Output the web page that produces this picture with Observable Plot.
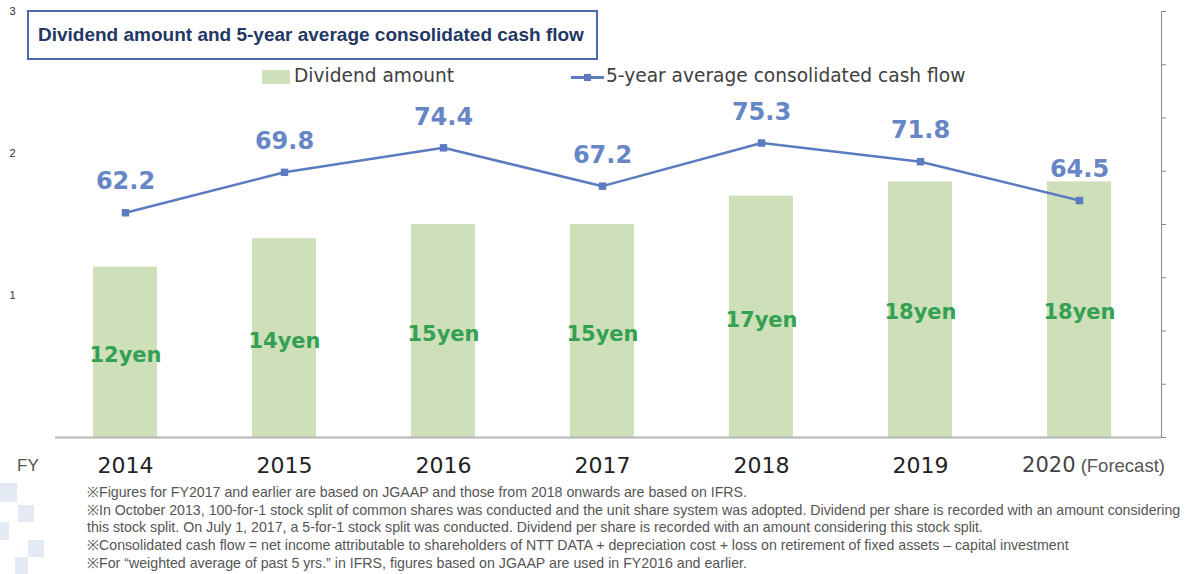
<!DOCTYPE html>
<html>
<head>
<meta charset="utf-8">
<script src="https://cdn.jsdelivr.net/npm/d3@7"></script>
<script src="https://cdn.jsdelivr.net/npm/@observablehq/plot@0.6"></script>
<style>
  html, body { margin: 0; padding: 0; background: #fff; }
  #wrap { position: relative; width: 1199px; height: 574px; overflow: hidden; }
  #chart { position: absolute; left: 0; top: 0; }
  .ov { position: absolute; white-space: nowrap; }
  #title { left: 27px; top: 10px; width: 558px; height: 46px; border: 2px solid #4A6BB3;
           font: bold 19px "Liberation Sans", Arial, sans-serif; color: #1F3864;
           line-height: 46px; padding-left: 9px; box-sizing: content-box; }
  .leg { font: 18.6px "DejaVu Sans", sans-serif; color: #404040; }
  .notes { left: 87px; top: 484px; font: 14.2px "Liberation Sans", Arial, sans-serif; color: #555; line-height: 17.7px; }
  .sq { position: absolute; background: #e3eaf4; }
</style>
</head>
<body>
<div id="wrap">
  <div id="chart"></div>
</div>
<script>
// ---- data ----
const years = ["2014", "2015", "2016", "2017", "2018", "2019", "2020"];
const dividend = [12, 14, 15, 15, 17, 18, 18];            // yen per share
const cashFlow = [62.2, 69.8, 74.4, 67.2, 75.3, 71.8, 64.5]; // 5-year average consolidated cash flow
const leftTicks = [10, 20, 30];
const leftTickLabels = ["1", "2", "3"];
const rightTicks = [20, 30, 40, 50, 60, 70, 80, 90, 100];
const titleText = "Dividend amount and 5-year average consolidated cash flow";
const legendBar = "Dividend amount";
const legendLine = "5-year average consolidated cash flow";
const footnotes = [
  "※Figures for FY2017 and earlier are based on JGAAP  and those from 2018 onwards are based on IFRS.",
  "※In October 2013, 100-for-1 stock split of common shares was conducted and the unit share system was adopted. Dividend per share is recorded with an amount considering",
  "this stock split. On July 1, 2017, a 5-for-1 stock split was conducted. Dividend per share is recorded with an amount considering this stock split.",
  "※Consolidated cash flow = net income attributable to shareholders of NTT DATA  + depreciation cost + loss on retirement of fixed assets – capital investment",
  "※For “weighted average of past 5 yrs.” in IFRS, figures based on JGAAP  are used in FY2016  and earlier."
];

const data = years.map((y, i) => ({year: y, div: dividend[i], cf: cashFlow[i]}));

// secondary (right) axis domain [20, 100] mapped onto the primary [0, 30]
const leftMax = 30, rMin = 20, rMax = 100;
const toLeft = v => (v - rMin) * leftMax / (rMax - rMin);

const lineColor = "#5B7BC0";
const plot = Plot.plot({
  width: 1199,
  height: 574,
  marginTop: 11,
  marginBottom: 137,
  marginLeft: 43,
  marginRight: 38,
  style: {background: "transparent", overflow: "visible"},
  x: {domain: years, paddingInner: 0.6, paddingOuter: 0.3, axis: null, label: null},
  y: {domain: [0, leftMax], axis: null, label: null},
  marks: [
    Plot.barY(data, {x: "year", y: "div", fill: "#CDE0BA"}),
    Plot.ruleY([0], {stroke: "#b5b5b5", strokeWidth: 2, insetLeft: 12}),
    Plot.frame({anchor: "right", stroke: "#8a8a8a"}),
    Plot.axisY(rightTicks.map(toLeft), {anchor: "right", label: null, tickSize: 4, tickFormat: () => "", stroke: "#8a8a8a"}),
    Plot.axisY(leftTicks, {anchor: "left", label: null, tickSize: 0, tickPadding: 0, dx: -28,
      tickFormat: d => leftTickLabels[leftTicks.indexOf(d)], fontSize: 11, fill: "#333",
      fontFamily: "Liberation Sans, Arial, sans-serif"}),
    Plot.axisX({anchor: "bottom", label: null, tickSize: 0, tickPadding: 20, fontSize: 22, fill: "#222",
      fontFamily: "DejaVu Sans, sans-serif"}),
    Plot.text(data, {x: "year", y: d => d.div / 2, text: d => d.div + "yen", dy: 3,
      fill: "#34A052", fontSize: 21, fontWeight: "bold", fontFamily: "DejaVu Sans, sans-serif"}),
    Plot.line(data, {x: "year", y: d => toLeft(d.cf), stroke: lineColor, strokeWidth: 2.5}),
    Plot.dot(data, {x: "year", y: d => toLeft(d.cf), symbol: "square", r: 4.2, fill: lineColor, stroke: "none"}),
    Plot.text(data, {x: "year", y: d => toLeft(d.cf), text: d => d.cf.toFixed(1), dy: -31,
      fill: "#6786C6", fontSize: 24, fontWeight: "bold", fontFamily: "DejaVu Sans, sans-serif"})
  ]
});
document.getElementById("chart").appendChild(plot);

// "2020 (Forecast)" tick label
d3.select(plot).selectAll('[aria-label="x-axis tick label"] text').each(function() {
  const t = d3.select(this);
  if (t.text() === "2020") {
    t.attr("fill", "#444").attr("font-size", 21).attr("dx", 14);
    t.append("tspan").text(" (Forecast)").attr("font-size", 18.5).attr("fill", "#555")
      .attr("font-family", "Liberation Sans, Arial, sans-serif");
  }
});

// overlays: title, legend, FY, footnotes, decoration
const wrap = document.getElementById("wrap");
function add(html, cls, style) {
  const el = document.createElement("div");
  el.className = cls; el.innerHTML = html; Object.assign(el.style, style); wrap.appendChild(el); return el;
}
[[0,483,17,19],[18,505,16,17],[0,522,9,18],[28,540,16,17],[15,557,13,17]].forEach(s =>
  add("", "sq", {left: s[0]+"px", top: s[1]+"px", width: s[2]+"px", height: s[3]+"px"}));
const title = add(titleText, "ov", {}); title.id = "title";
add("", "ov", {left: "262px", top: "70px", width: "28px", height: "14px", background: "#CDE0BA"});
add(legendBar, "ov leg", {left: "294px", top: "65px"});
add("", "ov", {left: "571px", top: "76px", width: "33px", height: "2.5px", background: lineColor});
add("", "ov", {left: "584px", top: "73.5px", width: "7px", height: "7px", background: lineColor});
add(legendLine, "ov leg", {left: "606px", top: "65px"});
add("FY", "ov", {left: "17px", top: "456px", font: "17px 'Liberation Sans', Arial, sans-serif", color: "#555"});
add(footnotes.join("<br>"), "ov notes", {});
</script>
</body>
</html>
